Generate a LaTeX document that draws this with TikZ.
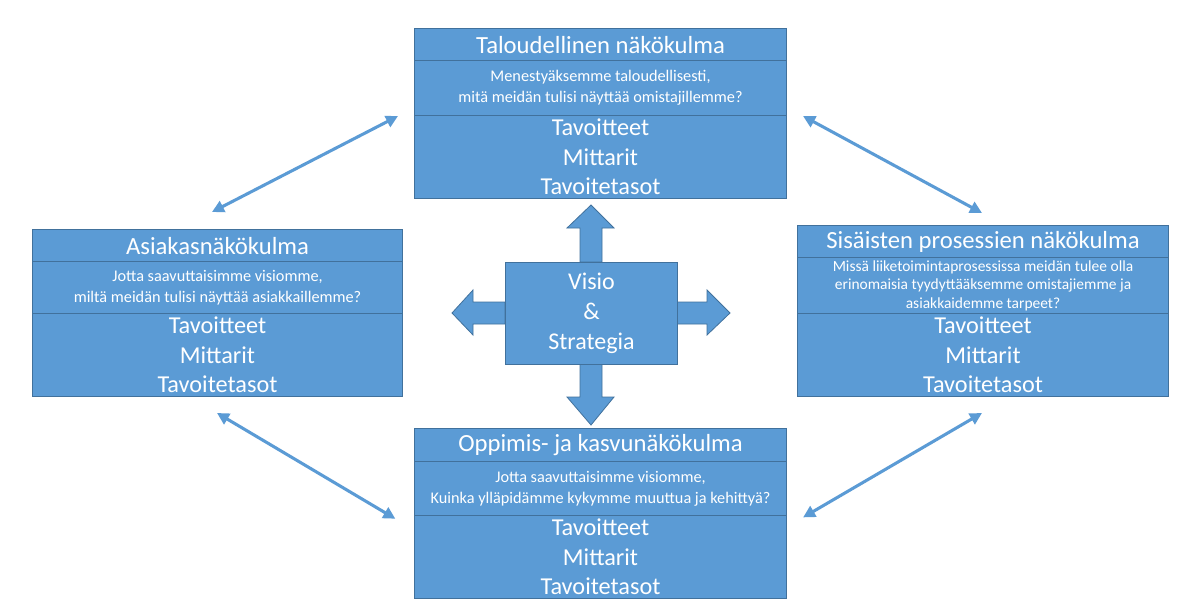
\documentclass[tikz,border=0pt]{standalone}
\usepackage{fontspec}
\setmainfont{Carlito}
\usetikzlibrary{arrows.meta,calc}
\definecolor{boxblue}{HTML}{5B9BD5}
\definecolor{boxline}{HTML}{41719C}
\begin{document}
\begin{tikzpicture}[x=0.75pt,y=-0.75pt,
  cell/.style={draw=boxline,fill=boxblue,line width=0.8pt,text=white,align=center,inner sep=0pt,anchor=north west},
  titlecell/.style={cell,font=\fontsize{18.5}{20}\selectfont},
  qcell/.style={cell,font=\fontsize{12.2}{15.5}\selectfont},
  listcell/.style={cell,font=\fontsize{18.2}{22}\selectfont},
  dbl/.style={draw=boxblue,line width=2.3pt,{Triangle[length=9pt,width=9pt]}-{Triangle[length=9pt,width=9pt]}},
  bigarrow/.style={draw=boxline,fill=boxblue,line width=0.6pt}
]
\useasboundingbox (0,0) rectangle (1180,606);
\fill[white] (0,0) rectangle (1180,606);

% Top box
\node[titlecell,minimum width=372*0.75pt,minimum height=32*0.75pt] (tt) at (414,28) {Taloudellinen näkökulma};
\node[qcell,minimum width=372*0.75pt,minimum height=55*0.75pt] (tq) at (414,60) {Menestyäksemme taloudellisesti,\\mitä meidän tulisi näyttää omistajillemme?};
\node[listcell,minimum width=372*0.75pt,minimum height=83*0.75pt] (tl) at (414,115) {Tavoitteet\\Mittarit\\Tavoitetasot};

% Left box
\node[titlecell,minimum width=370*0.75pt,minimum height=32*0.75pt] (lt) at (32,229) {Asiakasnäkökulma};
\node[qcell,minimum width=370*0.75pt,minimum height=52*0.75pt] (lq) at (32,261) {Jotta saavuttaisimme visiomme,\\miltä meidän tulisi näyttää asiakkaillemme?};
\node[listcell,minimum width=370*0.75pt,minimum height=83*0.75pt] (ll) at (32,313) {Tavoitteet\\Mittarit\\Tavoitetasot};

% Right box
\node[titlecell,minimum width=371*0.75pt,minimum height=32*0.75pt] (rt) at (797,225) {Sisäisten prosessien näkökulma};
\node[qcell,minimum width=371*0.75pt,minimum height=56*0.75pt,font=\fontsize{11.6}{13.8}\selectfont] (rq) at (797,257) {Missä liiketoimintaprosessissa meidän tulee olla\\erinomaisia tyydyttääksemme omistajiemme ja\\asiakkaidemme tarpeet?};
\node[listcell,minimum width=371*0.75pt,minimum height=83*0.75pt] (rl) at (797,313) {Tavoitteet\\Mittarit\\Tavoitetasot};

% Bottom box
\node[titlecell,minimum width=372*0.75pt,minimum height=33*0.75pt] (bt) at (414,428) {Oppimis- ja kasvunäkökulma};
\node[qcell,minimum width=372*0.75pt,minimum height=54*0.75pt] (bq) at (414,461) {Jotta saavuttaisimme visiomme,\\Kuinka ylläpidämme kykymme muuttua ja kehittyä?};
\node[listcell,minimum width=372*0.75pt,minimum height=83*0.75pt] (bl) at (414,515) {Tavoitteet\\Mittarit\\Tavoitetasot};

% Central block arrows
\draw[bigarrow] (580,262) -- (580,228) -- (567,228) -- (591,205) -- (614,228) -- (602,228) -- (602,262) -- cycle;
\draw[bigarrow] (580,364) -- (580,397) -- (567,397) -- (591,425) -- (614,397) -- (602,397) -- (602,364) -- cycle;
\draw[bigarrow] (505,302) -- (473,302) -- (473,290) -- (452,313) -- (473,335) -- (473,324) -- (505,324) -- cycle;
\draw[bigarrow] (677,302) -- (707,302) -- (707,290) -- (730,313) -- (707,335) -- (707,324) -- (677,324) -- cycle;
\node[cell,minimum width=172*0.75pt,minimum height=102*0.75pt,font=\fontsize{18}{22.5}\selectfont] (hub) at (505,262) {Visio\\\&\\Strategia};

% Diagonal double arrows
\coordinate (a1) at (212,212);
\coordinate (a2) at (982,213);
\coordinate (a3) at (217,413);
\coordinate (a4) at (982,413);
\draw[dbl] (a1) -- ([xshift=-12]tq.south west);
\draw[dbl] ([xshift=12]tq.south east) -- (a2);
\draw[dbl] (a3) -- ([xshift=-14,yshift=-2]bq.south west);
\draw[dbl] (a4) -- ([xshift=12,yshift=-1]bq.south east);
\end{tikzpicture}
\end{document}
